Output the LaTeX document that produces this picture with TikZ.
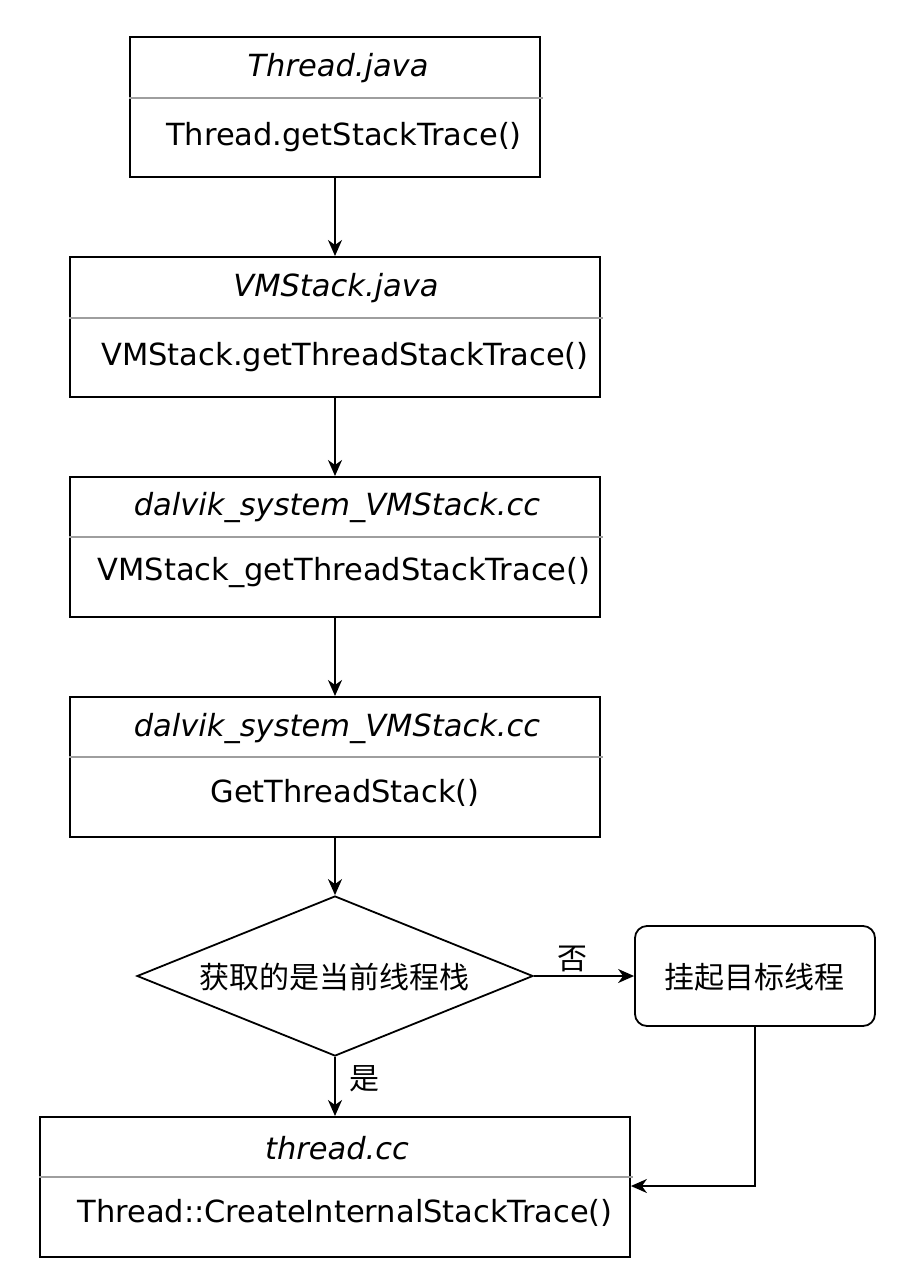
\documentclass[tikz,border=0pt]{standalone}
\usepackage{fontspec}
\setmainfont{DejaVu Sans}
\newfontfamily\cjk{Noto Sans CJK SC}
\usetikzlibrary{arrows.meta,shapes.geometric}
\begin{document}
\begin{tikzpicture}[x=1pt,y=-1pt,
  box/.style={draw=black,line width=1.8pt,minimum width=#1,minimum height=140pt,inner sep=0pt,anchor=north},
  sepline/.style={draw=black!38,line width=1.8pt},
  title/.style={font=\fontsize{30.5}{34}\selectfont\itshape,anchor=center},
  body/.style={font=\fontsize{30.5}{34}\selectfont,anchor=center},
  conn/.style={line width=1.8pt,-{Stealth[length=16pt,width=14pt,inset=5pt]}},
  lbl/.style={font=\cjk\fontsize{30}{34}\selectfont}]
\useasboundingbox (0,0) rectangle (912,1286);
% boxes
\node[box=410pt] (b1) at (335,36) {};
\draw[sepline] (b1.north west |- 0,98) -- ([xshift=2pt]b1.north east |- 0,98);
\node[title] (t1) at (338,68) {Thread.java};
\node[body] (m1) at (344,137) {Thread.getStackTrace()};

\node[box=530pt] (b2) at (335,256) {};
\draw[sepline] (b2.north west |- 0,318) -- ([xshift=2pt]b2.north east |- 0,318);
\node[title] (t2) at (336,288) {VMStack.java};
\node[body] (m2) at (345,357) {VMStack.getThreadStackTrace()};

\node[box=530pt] (b3) at (335,476) {};
\draw[sepline] (b3.north west |- 0,537) -- ([xshift=2pt]b3.north east |- 0,537);
\node[title] (t3) at (337,508) {dalvik\_system\_VMStack.cc};
\node[body] (m3) at (344,573) {VMStack\_getThreadStackTrace()};

\node[box=530pt] (b4) at (335,696) {};
\draw[sepline] (b4.north west |- 0,757) -- ([xshift=2pt]b4.north east |- 0,757);
\node[title] (t4) at (337,728) {dalvik\_system\_VMStack.cc};
\node[body] (m4) at (345,793) {GetThreadStack()};

\node[draw,line width=1.8pt,diamond,aspect=2.475,minimum width=396pt,minimum height=160pt,inner sep=0pt] (d) at (335,976) {};
\node[lbl] (dt) at (334,977) {获取的是当前线程栈};

\node[draw,line width=1.8pt,rounded corners=12pt,minimum width=240pt,minimum height=100pt,inner sep=0pt] (r) at (755,976) {};
\node[lbl] (rt) at (754,977) {挂起目标线程};

\node[box=590pt] (b5) at (335,1116) {};
\draw[sepline] (b5.north west |- 0,1177) -- ([xshift=2pt]b5.north east |- 0,1177);
\node[title] (t5) at (337,1148) {thread.cc};
\node[body] (m5) at (345,1213) {Thread::CreateInternalStackTrace()};

% connectors
\draw[conn] (b1.south) -- (b2.north);
\draw[conn] (b2.south) -- (b3.north);
\draw[conn] (b3.south) -- (b4.north);
\draw[conn] (b4.south) -- (d.north);
\draw[conn] (d.east) -- (r.west);
\draw[conn] (d.south) -- (b5.north);
\coordinate (k) at (755,1186);
\draw[conn] (r.south) -- (k) -- (b5.east |- k);
\node[lbl] (no) at (572,959) {否};
\node[lbl] (yes) at (364,1079) {是};
\end{tikzpicture}
\end{document}
